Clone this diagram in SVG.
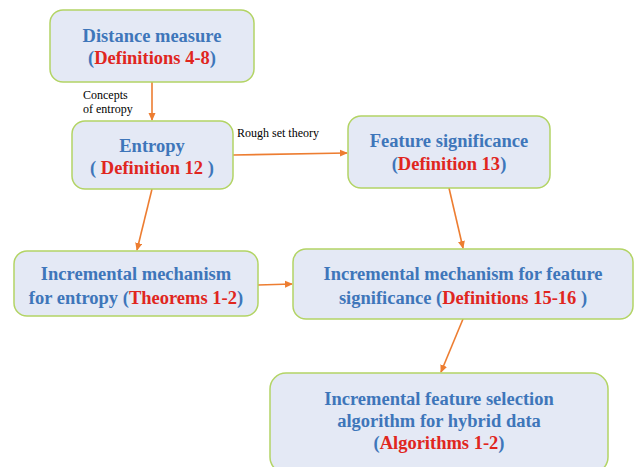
<svg xmlns="http://www.w3.org/2000/svg" width="635" height="467" viewBox="0 0 635 467">
<defs>
<marker id="ah" markerWidth="8" markerHeight="8" refX="7" refY="4" orient="auto" markerUnits="userSpaceOnUse">
<path d="M0,0.5 L8,4 L0,7.5 Z" fill="#ED7D31"/>
</marker>
<style>
.box{fill:#E4E9F5;stroke:#B3D465;stroke-width:1.5}
.t{font-family:"Liberation Serif","Times New Roman",serif;font-weight:bold;font-size:18.5px;fill:#3E76BA;text-anchor:middle}
.r{fill:#E0261E}
.lbl{font-family:"Liberation Serif","Times New Roman",serif;font-size:12px;fill:#000}
.c{stroke:#ED7D31;stroke-width:1.6;fill:none;marker-end:url(#ah)}
</style>
</defs>
<rect width="635" height="467" fill="#fff"/>
<g id="connectors">
<line class="c" x1="152" y1="82" x2="152" y2="120"/>
<line class="c" x1="233" y1="155" x2="347" y2="153"/>
<line class="c" x1="152" y1="189" x2="137" y2="250"/>
<line class="c" x1="449" y1="188" x2="463" y2="248"/>
<line class="c" x1="258" y1="285" x2="292" y2="284"/>
<line class="c" x1="463" y1="319" x2="441" y2="372"/>
<text class="lbl" x="83" y="99">Concepts</text>
<text class="lbl" x="83" y="113">of entropy</text>
<text class="lbl" x="237" y="137">Rough set theory</text>
</g>
<g id="n1">
<rect class="box" x="50" y="10" width="204" height="72" rx="13"/>
<text class="t" x="152" y="42">Distance measure</text>
<text class="t" x="152" y="64">(<tspan class="r">Definitions 4-8</tspan>)</text>
</g>
<g id="n2">
<rect class="box" x="72" y="121" width="161" height="68" rx="13"/>
<text class="t" x="152" y="152">Entropy</text>
<text class="t" x="152" y="174">( <tspan class="r">Definition 12</tspan> )</text>
</g>
<g id="n3">
<rect class="box" x="348" y="116" width="202" height="72" rx="13"/>
<text class="t" x="449" y="147">Feature significance</text>
<text class="t" x="449" y="170">(<tspan class="r">Definition 13</tspan>)</text>
</g>
<g id="n4">
<rect class="box" x="14" y="251" width="244" height="65" rx="13"/>
<text class="t" x="136" y="280">Incremental mechanism</text>
<text class="t" x="136" y="304">for entropy (<tspan class="r">Theorems 1-2</tspan>)</text>
</g>
<g id="n5">
<rect class="box" x="293" y="249" width="340" height="70" rx="13"/>
<text class="t" x="463" y="280">Incremental mechanism for feature</text>
<text class="t" x="463" y="304">significance (<tspan class="r">Definitions 15-16</tspan> )</text>
</g>
<g id="n6">
<rect class="box" x="270" y="373" width="338" height="100" rx="16"/>
<text class="t" x="439" y="405">Incremental feature selection</text>
<text class="t" x="439" y="427">algorithm for hybrid data</text>
<text class="t" x="439" y="449">(<tspan class="r">Algorithms 1-2</tspan>)</text>
</g>
</svg>
